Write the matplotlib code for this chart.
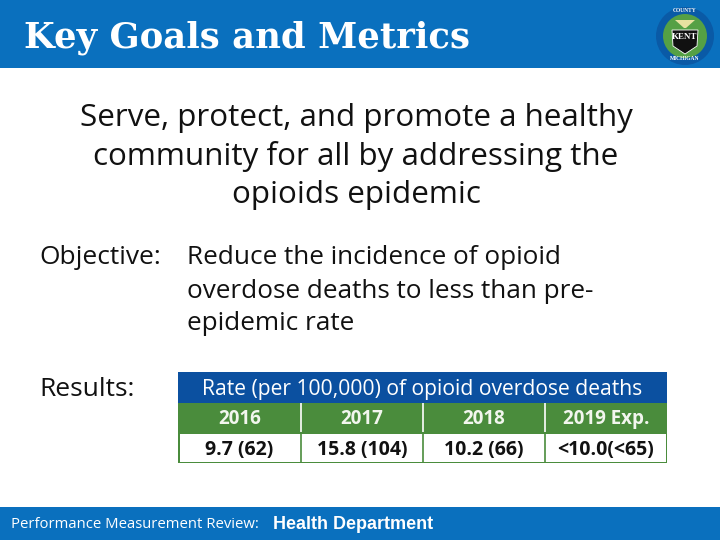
import matplotlib
matplotlib.use("Agg")
import matplotlib.pyplot as plt
from matplotlib.patches import Rectangle, Circle, Polygon

title = "Key Goals and Metrics"
mission = ["Serve, protect, and promote a healthy", "community for all by addressing the", "opioids epidemic"]
objective_label = "Objective:"
objective = ["Reduce the incidence of opioid", "overdose deaths to less than pre-", "epidemic rate"]
results_label = "Results:"
table_title = "Rate (per 100,000) of opioid overdose deaths"
years = ["2016", "2017", "2018", "2019 Exp."]
values = ["9.7 (62)", "15.8 (104)", "10.2 (66)", "<10.0(<65)"]
footer_a = "Performance Measurement Review:"
footer_b = "Health Department"

BLUE = "#0A70BE"
NAVY = "#0B50A0"
GREEN = "#4A8C3C"
SANS = ["Open Sans", "DejaVu Sans"]

fig = plt.figure(figsize=(7.2, 5.4), dpi=100, facecolor="white")
ax = fig.add_axes([0, 0, 1, 1])
ax.set_xlim(0, 720)
ax.set_ylim(540, 0)
ax.axis("off")

ax.add_patch(Rectangle((0, 0), 720, 68, fc=BLUE, ec="none"))
ax.add_patch(Rectangle((0, 507), 720, 33, fc=BLUE, ec="none"))
ax.text(24, 38, title, color="white", fontsize=25.5, fontweight="bold",
        family="DejaVu Serif", va="center", ha="left")

# seal
ax.add_patch(Circle((685, 36), 29, fc="#0A5AA6", ec="none"))
ax.add_patch(Circle((685, 36), 22, fc="#55A045", ec="none"))
ax.add_patch(Polygon([(672, 30), (698, 30), (697, 46), (685, 54), (673, 46)], fc="#111111", ec="white", lw=0.6))
ax.add_patch(Polygon([(675, 20), (695, 20), (686, 28), (684, 28)], fc="#E8E2A0", ec="none"))
ax.text(685, 37, "KENT", color="white", fontsize=6.5, fontweight="bold", family="Liberation Serif", ha="center", va="center")
ax.text(685, 11, "COUNTY", color="white", fontsize=4, fontweight="bold", family="Liberation Serif", ha="center", va="center")
ax.text(685, 58, "MICHIGAN", color="white", fontsize=4, fontweight="bold", family="Liberation Serif", ha="center", va="center")

for y, s in zip((118, 156, 195), mission):
    ax.text(356, y, s, fontsize=22.6, family=SANS, color="#111111", ha="center", va="center")

ax.text(39, 258, objective_label, fontsize=19, family=SANS, color="#111111", va="center")
for y, s in zip((258, 291, 323), objective):
    ax.text(187, y, s, fontsize=18.8, family=SANS, color="#111111", va="center")
ax.text(39, 390, results_label, fontsize=19, family=SANS, color="#111111", va="center")

# table
L, R = 178, 667
cols = [L, 301, 423, 545, R]
ax.add_patch(Rectangle((L, 372), R - L, 31, fc=NAVY, ec="none"))
ax.text((L + R) / 2, 389.5, table_title, color="white", fontsize=15.2, family=SANS, ha="center", va="center")
ax.add_patch(Rectangle((L, 403), R - L, 60, fc=GREEN, ec="none"))
ax.add_patch(Rectangle((L + 1.5, 434), R - L - 3, 27.5, fc="white", ec="none"))
for i, (yr, val) in enumerate(zip(years, values)):
    cx = (cols[i] + cols[i + 1]) / 2
    ax.text(cx, 419, yr, color="#F2F6EE", fontsize=13.5, fontweight="bold", family=SANS, ha="center", va="center")
    ax.text(cx, 450.5, val, color="#111111", fontsize=14, fontweight="bold", family=SANS, ha="center", va="center")
for x in cols[1:-1]:
    ax.plot([x, x], [403, 432], color="white", lw=1.2, solid_capstyle="butt")
    ax.plot([x, x], [434, 462], color=GREEN, lw=1.2, solid_capstyle="butt")

ax.text(11, 525, footer_a, color="white", fontsize=10.75, family=SANS, va="center")
ax.text(273, 524.5, footer_b, color="white", fontsize=13, fontweight="bold", family="Liberation Sans", va="center")

fig.savefig("out.png", dpi=100)
